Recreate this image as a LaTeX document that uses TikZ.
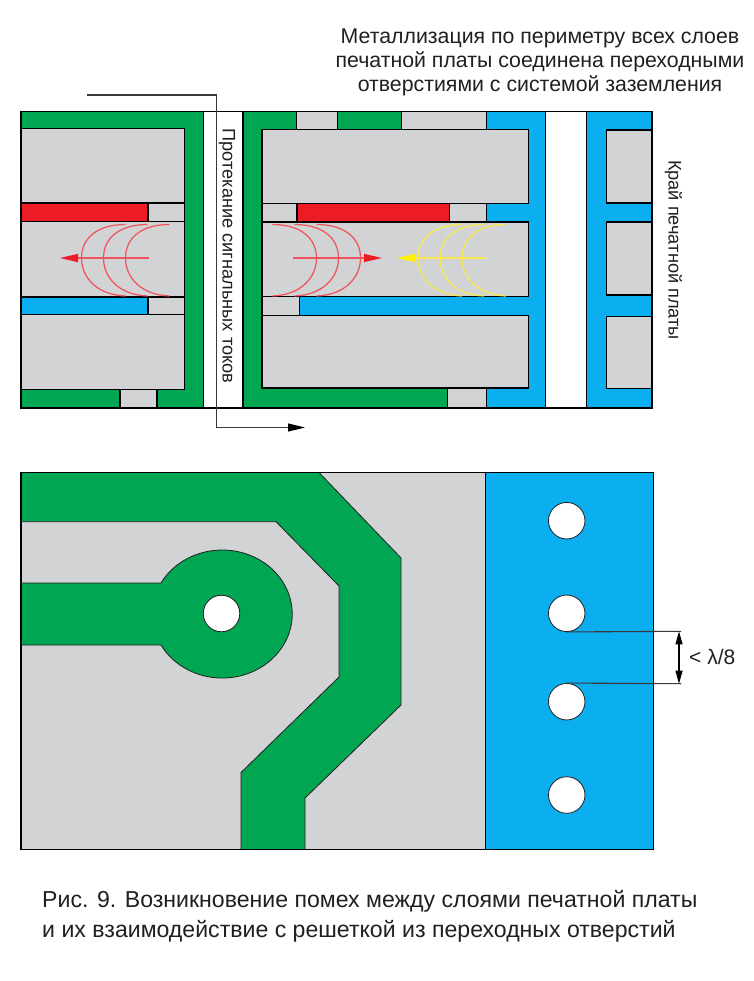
\documentclass[tikz,border=0pt]{standalone}
\usepackage{fontspec}
\setmainfont{Liberation Sans}
\usetikzlibrary{arrows.meta}
\definecolor{pgreen}{HTML}{00A651}
\definecolor{pblue}{HTML}{0BAEEF}
\definecolor{pred}{HTML}{ED1C24}
\definecolor{pgray}{HTML}{D1D3D4}
\definecolor{pyel}{HTML}{FFF200}
\definecolor{parc}{HTML}{F0555F}
\definecolor{yarc}{HTML}{F8EA4A}
\definecolor{ptext}{HTML}{231F20}
\definecolor{psig}{HTML}{3A3839}
\tikzset{
  x=1pt,y=-1pt,
  cell/.style={draw=black,line width=1.2pt,line join=miter},
  gcell/.style={cell,fill=pgray},
  grn/.style={cell,fill=pgreen},
  blu/.style={cell,fill=pblue},
  rd/.style={cell,fill=pred},
  hole/.style={draw=ptext,line width=0.8pt,fill=white},
  thin outline/.style={draw=ptext,line width=0.8pt},
  flow/.style={line width=1.25pt},
  sig/.style={draw=psig,line width=1.1pt},
  txt/.style={text=ptext,inner sep=0pt,font=\fontsize{21.3}{24}\selectfont},
  vtxt/.style={text=ptext,inner sep=0pt,rotate=-90,font=\fontsize{18.2}{20}\selectfont},
}
\newcommand{\fieldarcs}[3]{%
  \foreach \l in {0,22,44}{
    \draw[#3,flow] ({#1+#2*(\l+44)},224.5) .. controls ({#1+#2*(\l+16)},224.5) and ({#1+#2*\l},238) .. ({#1+#2*\l},258)
      .. controls ({#1+#2*\l},278) and ({#1+#2*(\l+16)},295) .. ({#1+#2*(\l+44)},296);
  }}
\begin{document}
\begin{tikzpicture}
\useasboundingbox (0,0) rectangle (753,981);
\fill[white] (0,0) rectangle (753,981);
% === upper section ===
% left part
\draw[grn] (21,111.5)--(203.5,111.5)--(203.5,408)--(157,408)--(157,389.5)--(184.5,389.5)--(184.5,128.5)--(21,128.5)--cycle;
\draw[grn] (21,389.5) rectangle (120,408);
\draw[gcell] (120,389.5) rectangle (157,408);
\draw[gcell] (21,128.5) rectangle (184.5,203);
\draw[rd] (21,203) rectangle (148,221.5);
\draw[gcell] (148,203) rectangle (184.5,221.5);
\draw[gcell] (21,221.5) rectangle (184.5,297);
\draw[blu] (21,297) rectangle (148,314.5);
\draw[gcell] (148,297) rectangle (184.5,314.5);
\draw[gcell] (21,314.5) rectangle (184.5,389.5);
% via
\draw[cell,fill=white] (203.5,111.5) rectangle (243,408);
% right part, green
\draw[grn] (243,111.5)--(296.5,111.5)--(296.5,129.5)--(262,129.5)--(262,388)--(447.3,388)--(447.3,408)--(243,408)--cycle;
\draw[gcell] (296.5,111.5) rectangle (337.5,129.5);
\draw[grn] (337.5,111.5) rectangle (401.7,129.5);
\draw[gcell] (401.7,111.5) rectangle (486.5,129.5);
\draw[gcell] (447.3,388) rectangle (486.5,408);
% right part, blue
\draw[blu] (486.5,111.5)--(545.7,111.5)--(545.7,408)--(486.5,408)--(486.5,388)--(528.3,388)--(528.3,315.5)--(299.5,315.5)--(299.5,296.5)--(528.3,296.5)--(528.3,222)--(486.5,222)--(486.5,203.5)--(528.3,203.5)--(528.3,129.5)--(486.5,129.5)--cycle;
\draw[gcell] (262,129.5) rectangle (528.3,203.5);
\draw[gcell] (262,203.5) rectangle (297,222);
\draw[rd] (297,203.5) rectangle (449.3,222);
\draw[gcell] (449.3,203.5) rectangle (486.5,222);
\draw[gcell] (262,222) rectangle (528.3,296.5);
\draw[gcell] (262,296.5) rectangle (299.5,315.5);
\draw[gcell] (262,315.5) rectangle (528.3,388);
\draw[cell,fill=white] (545.7,111.5) rectangle (586.5,408);
\draw[blu] (586.5,111.5) rectangle (652,408);
\draw[gcell] (606.5,130) rectangle (652,203);
\draw[gcell] (606.5,222) rectangle (652,295);
\draw[gcell] (606.5,316.5) rectangle (652,388.5);
\draw[cell] (21,111.5) rectangle (652,408);
% field arcs and arrows
\fieldarcs{81.5}{1}{parc}
\fieldarcs{360.5}{-1}{parc}
\fieldarcs{418}{1}{yarc}
\coordinate (la) at (148.5,258);
\coordinate (lb) at (60,258);
\coordinate (ra) at (293,258);
\coordinate (rb) at (382,258);
\coordinate (ya) at (486,258);
\coordinate (yb) at (397,258);
\draw[parc,flow,-{Triangle[length=18,width=8,color=pred]}] (la) -- (lb);
\draw[parc,flow,-{Triangle[length=18,width=8,color=pred]}] (ra) -- (rb);
\draw[yarc,flow,-{Triangle[length=18,width=8,color=pyel]}] (ya) -- (yb);
% signal current
\coordinate (sa) at (87,95);
\coordinate (sb) at (216.7,95);
\coordinate (sc) at (216.7,427.5);
\coordinate (sd) at (305,427.5);
\draw[sig,-{Triangle[length=17,width=8,color=black]}] (sa) -- (sb) -- (sc) -- (sd);
% texts
\node[txt,align=center] (title) at (540,62.5) {Металлизация по периметру всех слоев\\печатной платы соединена переходными\\отверстиями с системой заземления};
\node[vtxt] (flowlabel) at (227,256) {Протекание сигнальных токов};
\node[vtxt] (edgelabel) at (673.5,250) {Край печатной платы};
% === lower section ===
\fill[pgray] (21,472.5) rectangle (486,849.5);
\draw[blu] (485.5,472.5) rectangle (653.5,849.5);
\draw[thin outline,fill=pgreen,line join=miter] (21,472.5)--(319,472.5)--(401,558)--(401,705)--(305,798)--(305,849.5)--(241,849.5)--(241,772.5)--(339,677)--(339,586)--(276,521.7)--(21,521.7)--cycle;
\draw[thin outline,fill=pgreen] (21,583)--(161,583) arc[start angle=209,end angle=511,x radius=70,y radius=64] --(21,645)--cycle;
\node[hole,circle,minimum size=36.5pt,inner sep=0pt] (padhole) at (221.5,613.5) {};
\node[hole,circle,minimum size=36.5pt,inner sep=0pt] (v1) at (566.7,520.7) {};
\node[hole,circle,minimum size=36.5pt,inner sep=0pt] (v2) at (566.7,613.3) {};
\node[hole,circle,minimum size=36.5pt,inner sep=0pt] (v3) at (566.7,701.7) {};
\node[hole,circle,minimum size=36.5pt,inner sep=0pt] (v4) at (566.7,795) {};
\draw[cell] (21,472.5) rectangle (653.5,849.5);
% dimension
\coordinate (d1) at (681,631.3);
\coordinate (d2) at (681,683.7);
\coordinate (m1) at (679,631.3);
\coordinate (m2) at (679,683.7);
\draw[sig] (v2.south) -- (d1);
\draw[sig] (v3.north) -- (d2);
\draw[line width=1.1pt,{Triangle[length=13,width=7]}-{Triangle[length=13,width=7]}] (m1) -- (m2);
\node[text=ptext,inner sep=0pt,anchor=west,font=\fontsize{21}{22}\selectfont] (lam) at (689,657) {< λ/8};
\node[text=ptext,inner sep=0pt,anchor=north west,align=left,font=\fontsize{23.1}{30}\selectfont] (cap) at (42,890) {Рис. 9. Возникновение помех между слоями печатной платы\\и их взаимодействие с решеткой из переходных отверстий};
\end{tikzpicture}
\end{document}
